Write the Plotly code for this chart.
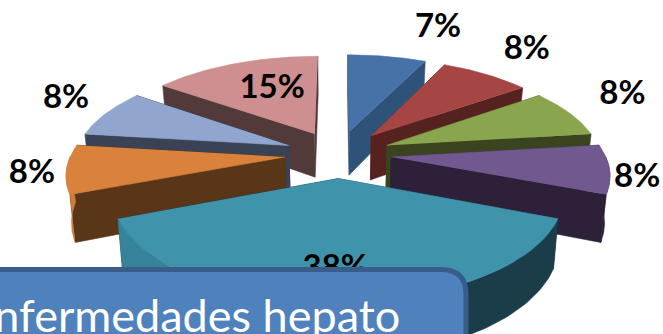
import math
import plotly.graph_objects as go

# ---- data ----
values = [7, 8, 8, 8, 38, 8, 8, 15]
labels = ["7%", "8%", "8%", "8%", "38%", "8%", "8%", "15%"]
callout_text = "Enfermedades hepato"

# ---- style ----
top_colors = ["#4672a8", "#a64644", "#89a54e", "#71588f", "#3f94ac", "#d9823b", "#91a6ce", "#cd8f8f"]
side_colors = ["#2f5278", "#552220", "#3a451f", "#2c2138", "#1b3d4a", "#5a3618", "#3a4255", "#533a3a"]
left_rim_colors = ["#2f5278", "#552220", "#3a451f", "#2c2138", "#37849a", "#d07c38", "#3a4255", "#533a3a"]
draw_order = [0, 7, 1, 6, 2, 5, 3, 4]
label_radius = [380.6, 364.6, 350, 294.6, 215.7, 299.8, 329, 185]
label_shift = [6.6, -1.3, -4.4, 1.7, 0.4, 0.1, 4, 4]

W, H = 663, 334
CX, CY = 338, 154
R, EXPLODE, DIST, TILT, DEPTH, BOTTOM_SCALE = 214, 53, 1380, 0.445, 45, 0.98
LABEL_DX, LABEL_DY = -1, 3.5
FONT = "Lato, Carlito, Calibri, sans-serif"


def project(x, y, bottom=False, dist=None):
    d = dist or DIST
    s = d / (d - y)
    sx = CX + x * s
    sy = CY + TILT * y * s
    if bottom:
        sx = CX + (sx - CX) * BOTTOM_SCALE
        sy += DEPTH * s
    return sx, sy


def arc_world(ax, ay, a0, a1, n=48):
    return [(ax + R * math.sin(math.radians(a0 + (a1 - a0) * i / n)),
             ay - R * math.cos(math.radians(a0 + (a1 - a0) * i / n))) for i in range(n + 1)]


def poly(points, color):
    return go.Scatter(x=[p[0] for p in points], y=[p[1] for p in points], mode="lines",
                      fill="toself", fillcolor=color, line=dict(width=0.6, color=color),
                      hoverinfo="skip", showlegend=False)


fig = go.Figure()
total = sum(values)
edges = [0.0]
for v in values:
    edges.append(edges[-1] + v / total * 360)

for i in draw_order:
    a0, a1 = edges[i], edges[i + 1]
    mid = (a0 + a1) / 2
    ax = EXPLODE * math.sin(math.radians(mid))
    ay = -EXPLODE * math.cos(math.radians(mid))
    arc = arc_world(ax, ay, a0, a1)
    # radial faces
    for end in (arc[0], arc[-1]):
        fig.add_trace(poly([project(ax, ay), project(*end), project(*end, bottom=True),
                            project(ax, ay, bottom=True)], side_colors[i]))
    # rim: only the part facing the viewer
    lo, hi = max(a0, 90), min(a1, 270)
    if hi > lo:
        split = min(max(180, lo), hi)
        for start, stop, col in ((lo, split, side_colors[i]), (split, hi, left_rim_colors[i])):
            if stop > start:
                seg = arc_world(ax, ay, start, stop)
                pts = [project(*p) for p in seg] + [project(*p, bottom=True) for p in reversed(seg)]
                fig.add_trace(poly(pts, col))
    # top
    fig.add_trace(poly([project(ax, ay)] + [project(*p) for p in arc], top_colors[i]))

# data labels (text trace, so the callout box covers them)
lx, ly = [], []
for i in range(len(values)):
    ang = math.radians((edges[i] + edges[i + 1]) / 2 + label_shift[i])
    p = project(label_radius[i] * math.sin(ang), -label_radius[i] * math.cos(ang), dist=1500)
    lx.append(p[0] + LABEL_DX)
    ly.append(p[1] + LABEL_DY)
fig.add_trace(go.Scatter(x=lx, y=ly, mode="text", text=labels, textposition="middle center",
                         textfont=dict(family=FONT, size=33, color="#000000", weight="bold"),
                         hoverinfo="skip", showlegend=False, cliponaxis=False))

# callout box
fig.add_shape(type="path", layer="above", xref="x", yref="y",
              path="M -30 269.5 L 441 269.5 Q 466 269.5 466 294.5 L 466 360 L -30 360 Z",
              fillcolor="#4f81bd", line=dict(color="#385d8a", width=5))
fig.add_annotation(x=402, y=331, xref="x", yref="y", xanchor="right", yanchor="bottom",
                   text=callout_text, showarrow=False, yshift=-13,
                   font=dict(family=FONT, size=45, color="#ffffff"))

fig.update_layout(width=W, height=H, margin=dict(l=0, r=0, t=0, b=0), autosize=False,
                  paper_bgcolor="#ffffff", plot_bgcolor="#ffffff", showlegend=False,
                  xaxis=dict(range=[0, W], visible=False, fixedrange=True),
                  yaxis=dict(range=[H, 0], visible=False, fixedrange=True))
fig.write_html("out.html", config={"displayModeBar": False},
               post_script="document.body.style.margin='0';document.body.style.overflow='hidden';")
